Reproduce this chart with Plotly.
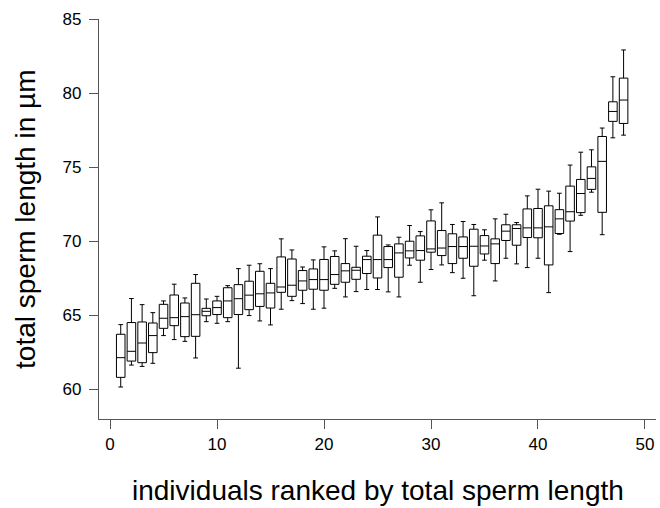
import plotly.graph_objects as go

# Individuals ranked 1..48 by total sperm length
ranks = list(range(1, 49))

# Five-number summaries per individual (µm)
lower = [60.16, 61.64, 61.55, 61.76, 63.63, 63.36, 63.24, 62.12, 64.57, 64.46,
         64.57, 61.43, 64.98, 64.62, 64.35, 65.41, 65.99, 65.79, 65.41, 65.48,
         66.82, 66.24, 66.60, 66.74, 66.74, 66.58, 66.24, 68.38, 67.23, 68.09,
         68.40, 67.88, 67.50, 66.32, 68.72, 67.32, 68.85, 68.47, 68.22, 68.85,
         66.53, 70.47, 69.30, 71.75, 73.31, 70.44, 76.98, 77.16]
q1 = [60.81, 61.91, 61.80, 62.48, 64.12, 64.30, 63.56, 63.58, 64.97, 65.05,
      64.84, 65.05, 65.38, 65.60, 65.49, 66.55, 66.28, 66.69, 66.76, 66.69,
      67.09, 67.23, 67.43, 67.82, 67.52, 68.22, 67.57, 68.87, 68.72, 69.26,
      69.03, 68.49, 68.85, 68.31, 69.14, 68.49, 70.05, 69.73, 70.25, 70.23,
      68.40, 70.52, 71.36, 71.93, 73.50, 71.95, 78.09, 77.95]
median = [62.14, 62.57, 63.13, 63.63, 64.80, 64.84, 64.91, 65.04, 65.27, 65.52,
          65.97, 66.12, 66.36, 66.45, 66.51, 66.91, 67.03, 67.32, 67.41, 67.41,
          67.75, 68.00, 68.04, 68.76, 68.76, 68.76, 69.21, 69.35, 69.37, 69.48,
          69.54, 69.64, 69.64, 69.66, 69.68, 69.82, 70.68, 70.86, 70.90, 70.90,
          70.97, 71.51, 71.99, 73.22, 74.24, 75.39, 78.76, 79.53]
q3 = [63.72, 64.51, 64.55, 64.48, 65.74, 66.37, 65.83, 67.16, 65.47, 65.97,
      66.86, 67.07, 67.30, 67.97, 67.16, 68.94, 68.80, 68.02, 68.13, 68.77,
      68.97, 68.49, 68.24, 68.99, 70.41, 69.64, 69.82, 70.00, 70.36, 71.37,
      70.72, 70.50, 70.29, 70.81, 70.38, 70.16, 71.11, 71.11, 72.18, 72.21,
      72.39, 72.13, 73.72, 74.17, 75.02, 77.07, 79.41, 81.01]
upper = [64.37, 66.13, 65.72, 65.18, 65.97, 67.10, 66.17, 67.75, 66.10, 66.28,
         67.00, 68.15, 68.38, 68.48, 68.15, 70.16, 69.41, 68.26, 68.74, 69.62,
         69.35, 70.17, 69.66, 69.37, 71.64, 69.75, 70.27, 71.06, 70.65, 72.12,
         72.59, 71.13, 71.33, 71.13, 70.77, 71.51, 71.82, 71.26, 73.06, 73.51,
         73.38, 73.24, 75.14, 76.01, 76.17, 77.64, 81.10, 82.91]

x_ticks = [0, 10, 20, 30, 40, 50]
y_ticks = [60, 65, 70, 75, 80, 85]

FONT = "Liberation Sans, Arial, Helvetica, sans-serif"
AXIS_GREY = "#555555"

fig = go.Figure(
    go.Box(
        x=ranks,
        q1=q1,
        median=median,
        q3=q3,
        lowerfence=lower,
        upperfence=upper,
        boxpoints=False,
        width=0.8,
        whiskerwidth=0.55,
        fillcolor="white",
        line=dict(color="black", width=1),
        hoverinfo="skip",
    )
)

axis_common = dict(
    showgrid=False,
    zeroline=False,
    showline=True,
    linecolor=AXIS_GREY,
    linewidth=1.2,
    ticks="outside",
    ticklen=9,
    tickwidth=1.2,
    tickcolor=AXIS_GREY,
    tickfont=dict(family=FONT, size=17, color="black"),
    mirror=False,
)

fig.update_layout(
    width=660,
    height=508,
    margin=dict(l=99, r=4, t=19, b=89),
    plot_bgcolor="white",
    paper_bgcolor="white",
    showlegend=False,
    xaxis=dict(range=[-1.03, 51.03], tickvals=x_ticks, **axis_common),
    yaxis=dict(range=[58, 85], tickvals=y_ticks, ticklabelstandoff=4, **axis_common),
    annotations=[
        dict(
            text="individuals ranked by total sperm length",
            xref="paper", yref="paper", x=0.5, y=-0.1775,
            xanchor="center", yanchor="middle", showarrow=False,
            font=dict(family=FONT, size=28, color="black"),
        ),
        dict(
            text="total sperm length in µm",
            xref="paper", yref="paper", x=-0.133, y=0.5,
            xanchor="center", yanchor="middle", showarrow=False, textangle=-90,
            font=dict(family=FONT, size=28, color="black"),
        ),
    ],
)

fig.write_html("out.html")
